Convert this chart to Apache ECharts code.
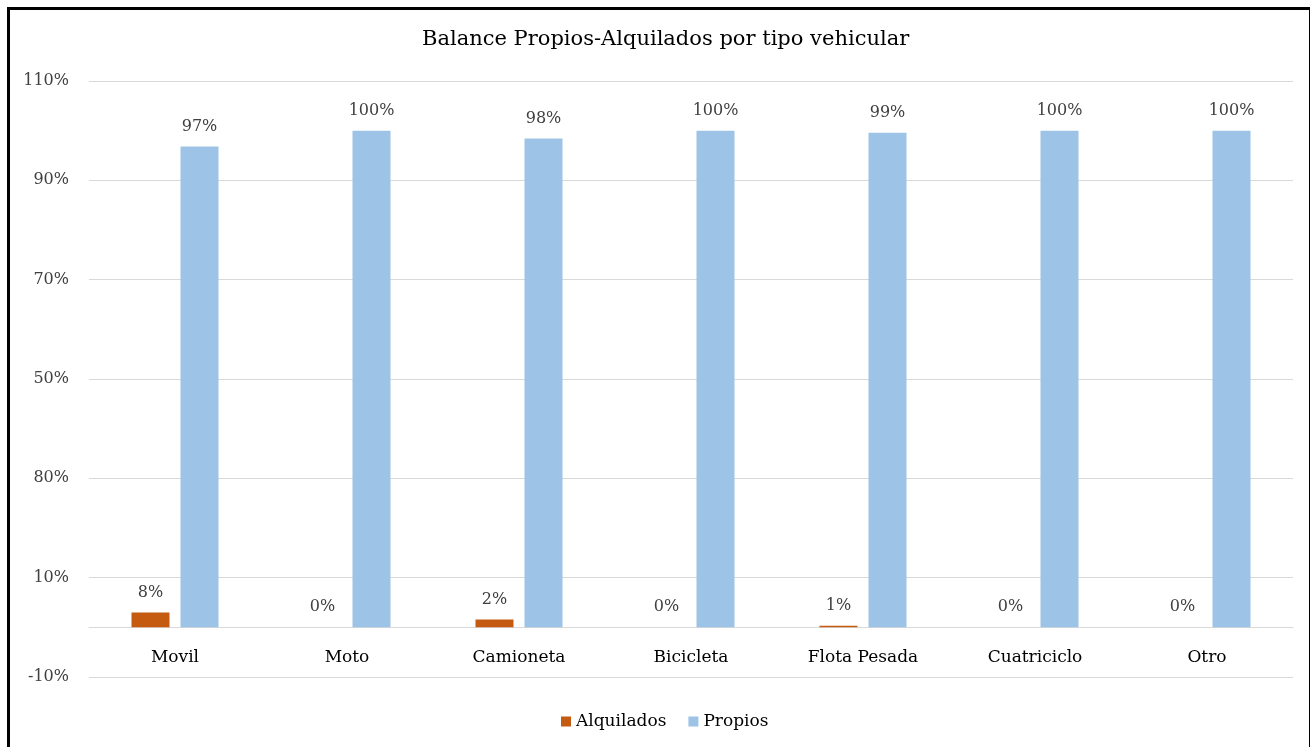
<!DOCTYPE html>
<html>
<head>
<meta charset="utf-8">
<script src="https://cdn.jsdelivr.net/npm/echarts@6/dist/echarts.min.js"></script>
<style>
  html, body { margin: 0; padding: 0; background: #fff; }
  #chart { width: 1310px; height: 747px; }
</style>
</head>
<body>
<div id="chart"></div>
<script>
const categories = ['Movil', 'Moto', 'Camioneta', 'Bicicleta', 'Flota Pesada', 'Cuatriciclo', 'Otro'];
const alquilados = [3.0, 0, 1.6, 0, 0.3, 0, 0];
const alquiladosLabels = ['8%', '0%', '2%', '0%', '1%', '0%', '0%'];
const propios = [96.8, 100, 98.4, 100, 99.6, 100, 100];
const propiosLabels = ['97%', '100%', '98%', '100%', '99%', '100%', '100%'];
// tick labels as printed on the original (the 30 line reads "80%")
const tickValues = [-10, 10, 30, 50, 70, 90, 110];
const tickLabels = ['-10%', '10%', '80%', '50%', '70%', '90%', '110%'];

const font = '"DejaVu Serif", "Liberation Serif", serif';

const chart = echarts.init(document.getElementById('chart'));

const option = {
  animation: false,
  textStyle: { fontFamily: font },
  color: ['#C55A11', '#9DC3E6'],
  title: {
    text: 'Balance Propios-Alquilados por tipo vehicular',
    left: 417,
    top: 24,
    textStyle: { fontFamily: font, fontSize: 21, fontWeight: 'normal', color: '#000' }
  },
  legend: {
    bottom: 12,
    left: 556,
    itemWidth: 10,
    itemHeight: 10,
    itemGap: 22,
    icon: 'rect',
    textStyle: { fontFamily: font, fontSize: 17, color: '#000' },
    data: ['Alquilados', 'Propios']
  },
  grid: { left: 89, right: 17, top: 81, bottom: 70, containLabel: false },
  xAxis: {
    type: 'category',
    data: categories,
    axisTick: { show: false },
    axisLine: { onZero: true, lineStyle: { color: '#d9d9d9', width: 1 } },
    axisLabel: { fontFamily: font, fontSize: 17, color: '#000', margin: -28 }
  },
  yAxis: {
    type: 'value',
    min: -10,
    max: 110,
    interval: 20,
    axisLine: { show: false },
    axisTick: { show: false },
    splitLine: { lineStyle: { color: '#d9d9d9', width: 1 } },
    axisLabel: {
      fontFamily: font,
      fontSize: 16,
      color: '#404040',
      margin: 20,
      formatter: function (v) {
        const i = tickValues.indexOf(v);
        return i >= 0 ? tickLabels[i] : '';
      }
    }
  },
  series: [
    {
      name: 'Alquilados',
      type: 'bar',
      data: alquilados,
      barWidth: 38,
      barGap: '29%',
      label: {
        show: true,
        position: 'top',
        distance: 12,
        fontFamily: font,
        fontSize: 16,
        color: '#404040',
        formatter: function (p) { return alquiladosLabels[p.dataIndex]; }
      }
    },
    {
      name: 'Propios',
      type: 'bar',
      data: propios,
      barWidth: 38,
      label: {
        show: true,
        position: 'top',
        distance: 12,
        fontFamily: font,
        fontSize: 16,
        color: '#404040',
        formatter: function (p) { return propiosLabels[p.dataIndex]; }
      }
    }
  ],
  graphic: [
    {
      type: 'rect',
      left: 6,
      top: 6,
      shape: { width: 1302, height: 760 },
      style: { fill: 'none', stroke: '#000', lineWidth: 3 },
      silent: true
    }
  ]
};

chart.setOption(option);
</script>
</body>
</html>
